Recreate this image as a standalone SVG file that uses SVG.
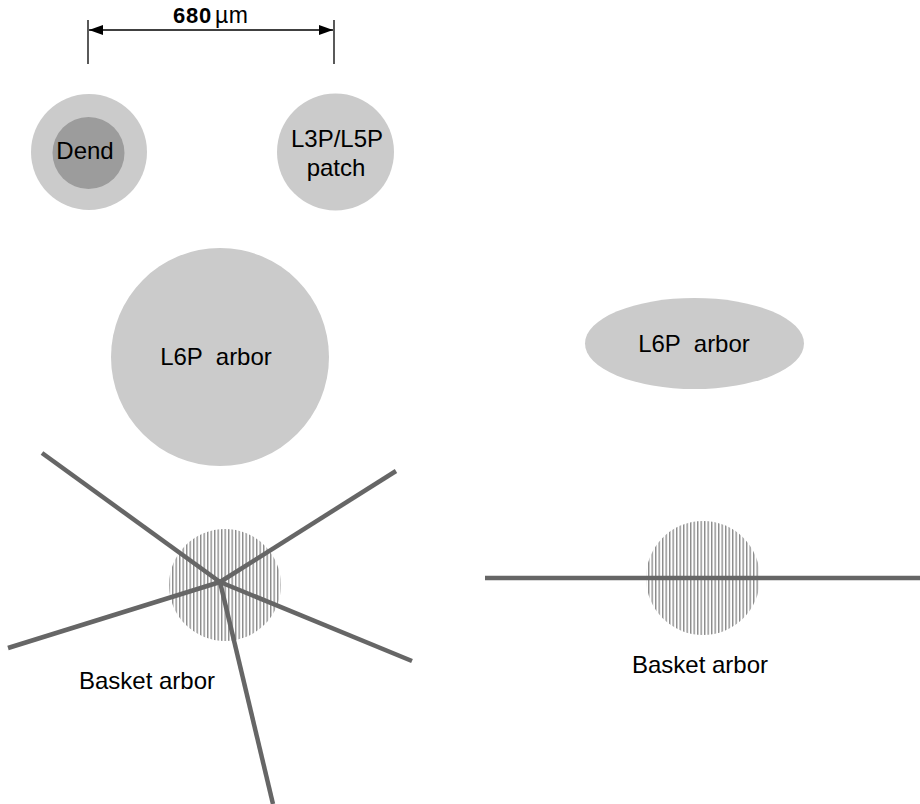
<svg xmlns="http://www.w3.org/2000/svg" width="920" height="804" viewBox="0 0 920 804">
<style>
.t{font-family:"Liberation Sans",Arial,sans-serif;fill:#000;text-anchor:middle;font-size:24px}
.lt{fill:#cbcbcb}
.ax{stroke:#666;stroke-width:4.5;stroke-linecap:butt;fill:none}
.dim{stroke:#000;stroke-width:1.3;fill:none}
</style>
<defs>
<pattern id="vh" width="3.5" height="20" patternUnits="userSpaceOnUse" x="0.5">
<rect x="0" y="0" width="1.4" height="20" fill="#8a8a8a"/>
</pattern>
<marker id="ah" viewBox="0 0 14 10" refX="14" refY="5" markerWidth="14" markerHeight="10" markerUnits="userSpaceOnUse" orient="auto-start-reverse">
<path d="M0,0 L14,5 L0,10 Z" fill="#000"/>
</marker>
</defs>
<g id="scale">
<line class="dim" x1="88" y1="20" x2="88" y2="64"/>
<line class="dim" x1="334" y1="20" x2="334" y2="64"/>
<line class="dim" x1="89" y1="30" x2="333" y2="30" marker-start="url(#ah)" marker-end="url(#ah)"/>
<text x="173" y="23" style="font-family:'Liberation Sans',Arial,sans-serif;font-size:22px;font-weight:bold;letter-spacing:0.8px">680</text>
<text x="215" y="23" style="font-family:'Liberation Sans',Arial,sans-serif;font-size:23px;letter-spacing:0.5px">µm</text>
</g>
<g id="dend">
<circle class="lt" cx="89" cy="152" r="58"/>
<circle cx="88.5" cy="153" r="36" fill="#9c9c9c"/>
<text class="t" x="85" y="159">Dend</text>
</g>
<g id="patch">
<circle class="lt" cx="335.5" cy="152" r="58.5"/>
<text class="t" x="337" y="147">L3P/L5P</text>
<text class="t" x="336" y="176">patch</text>
</g>
<g id="l6p-left">
<circle class="lt" cx="220" cy="357" r="109"/>
<text class="t" x="216" y="365" xml:space="preserve">L6P  arbor</text>
</g>
<g id="l6p-right">
<ellipse class="lt" cx="694.5" cy="343.5" rx="109.5" ry="45.5"/>
<text class="t" x="694" y="352" xml:space="preserve">L6P  arbor</text>
</g>
<g id="basket-left">
<circle cx="225" cy="585" r="56" fill="url(#vh)"/>
<text class="t" x="147" y="689">Basket arbor</text>
</g>
<g id="basket-right">
<circle cx="703" cy="578" r="57" fill="url(#vh)"/>
<text class="t" x="700" y="673">Basket arbor</text>
</g>
<g id="connectors">
<line class="ax" x1="220" y1="582" x2="42" y2="453"/>
<line class="ax" x1="220" y1="582" x2="396" y2="471"/>
<line class="ax" x1="220" y1="582" x2="8" y2="648"/>
<line class="ax" x1="220" y1="582" x2="412" y2="661"/>
<line class="ax" x1="220" y1="582" x2="273" y2="804"/>
<line class="ax" x1="485" y1="578" x2="920" y2="578"/>
</g>
</svg>
